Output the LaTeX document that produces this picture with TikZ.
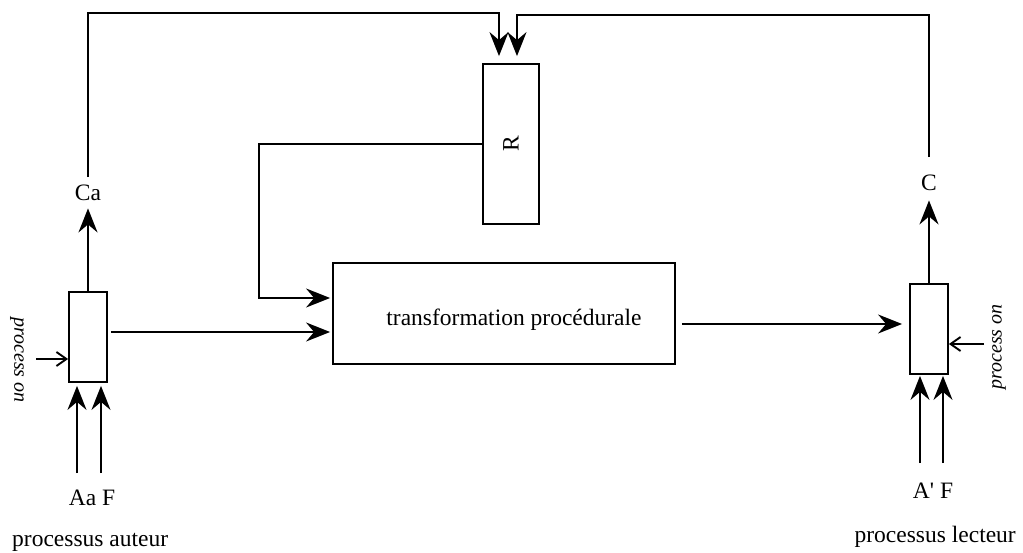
\documentclass[tikz,border=0pt]{standalone}
\usepackage{fontspec}
\setmainfont{Liberation Serif}
\usetikzlibrary{arrows.meta, calc}

\begin{document}
\begin{tikzpicture}[
    x=1pt, y=-1pt,
    every node/.style={font=\fontsize{23.5}{27}\selectfont},
    blk/.style={draw, line width=1.8pt, minimum width=38pt, minimum height=90pt, inner sep=0pt},
    lbl/.style={inner sep=0pt, anchor=base},
    side/.style={inner sep=0pt, font=\fontsize{20}{23}\selectfont\itshape},
    arrow/.style={-{Stealth[length=24pt, width=19pt, inset=8pt]}, line width=1.9pt},
    tick/.style={-{Straight Barb[length=10pt, width=14pt]}, line width=1.9pt}
]
\useasboundingbox (0,0) rectangle (1023,553);
\node[blk] (auteur) at (88,337) {};
\node[blk] (lecteur) at (929,329) {};
\node[blk, minimum width=56pt, minimum height=160pt,
      label={[rotate=90]center:R}] (R) at (511,144) {};
\node[blk, minimum width=342pt, minimum height=101pt,
      label={[xshift=10pt, yshift=-6pt]center:transformation procédurale}] (trans) at (504,313.5) {};
\node[lbl] (ca) at (88,201) {Ca};
\node[lbl] (c) at (929,191) {C};
\node[lbl] (aaf) at (92,505) {Aa F};
\node[lbl] (apf) at (933,498) {A\textquotesingle{} F};
\node[lbl, anchor=base west] (auteurtxt) at (12,546) {processus auteur};
\node[lbl, anchor=base east] (lecteurtxt) at (1016,542) {processus lecteur};
\node[side, rotate=-90] (pol) at (17,360) {process on};
\node[side, rotate=90] (por) at (999,347) {process on};
\coordinate (a1) at (77,473);
\coordinate (a2) at (101,473);
\coordinate (b1) at (920,463);
\coordinate (b2) at (943,463);
\coordinate (pl) at (36,359);
\coordinate (pr) at (984,344);
\coordinate (topl) at (0,13);
\coordinate (topr) at (0,15);
\coordinate (bend) at (259,298);
\draw[arrow, shorten >=7pt] (auteur.north) -- (auteur.north |- ca.south);
\draw[arrow, shorten >=9pt] (lecteur.north) -- (lecteur.north |- c.south);
\draw[arrow, shorten <=8pt, shorten >=7pt] (ca.north) -- (ca.north |- topl) -| ([xshift=-12pt]R.north);
\draw[arrow, shorten <=18pt, shorten >=7pt] (c.north) -- (c.north |- topr) -| ([xshift=6pt]R.north);
\draw[arrow, shorten >=2pt] (R.west) -| (bend) -- (bend -| trans.west);
\draw[arrow, shorten <=3pt, shorten >=2pt] ([yshift=5pt]auteur.east) -- ([yshift=5pt]auteur.east -| trans.west);
\draw[arrow, shorten <=6pt, shorten >=7pt] ([yshift=5pt]lecteur.west -| trans.east) -- ([yshift=5pt]lecteur.west);
\foreach \p in {a1,a2} \draw[arrow, shorten >=3pt] (\p) -- (\p |- auteur.south);
\foreach \p in {b1,b2} \draw[arrow, shorten >=1pt] (\p) -- (\p |- lecteur.south);
\draw[tick] (pl) -- (pl -| auteur.west);
\draw[tick] (pr) -- (pr -| lecteur.east);
\end{tikzpicture}
\end{document}
